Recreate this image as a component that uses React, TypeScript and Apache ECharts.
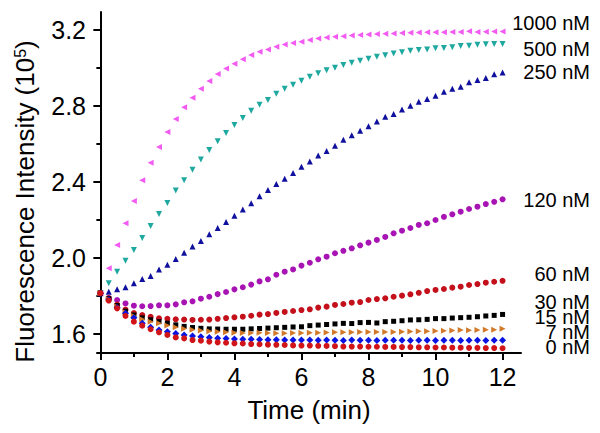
import React, { useEffect, useRef } from "react";
import * as echarts from "echarts";

const TIMES = [
  0, 0.25, 0.5, 0.75, 1, 1.25, 1.5, 1.75, 2, 2.25,
  2.5, 2.75, 3, 3.25, 3.5, 3.75, 4, 4.25, 4.5, 4.75,
  5, 5.25, 5.5, 5.75, 6, 6.25, 6.5, 6.75, 7, 7.25,
  7.5, 7.75, 8, 8.25, 8.5, 8.75, 9, 9.25, 9.5, 9.75,
  10, 10.25, 10.5, 10.75, 11, 11.25, 11.5, 11.75, 12,
];

const C1000 = [
  1.815, 1.946, 2.068, 2.183, 2.30, 2.409, 2.502, 2.584, 2.663, 2.732,
  2.793, 2.844, 2.891, 2.932, 2.968, 2.998, 3.023, 3.046, 3.068, 3.086,
  3.098, 3.112, 3.124, 3.132, 3.139, 3.147, 3.155, 3.161, 3.165, 3.168,
  3.171, 3.174, 3.176, 3.179, 3.180, 3.182, 3.184, 3.186, 3.187, 3.188,
  3.188, 3.189, 3.190, 3.190, 3.194, 3.190, 3.191, 3.192, 3.192,
];
const C500 = [
  1.815, 1.867, 1.928, 1.986, 2.042, 2.105, 2.168, 2.232, 2.289, 2.356,
  2.409, 2.465, 2.519, 2.568, 2.614, 2.658, 2.700, 2.737, 2.775, 2.807,
  2.832, 2.865, 2.891, 2.912, 2.933, 2.954, 2.972, 2.989, 3.002, 3.016,
  3.028, 3.039, 3.049, 3.060, 3.067, 3.076, 3.083, 3.091, 3.095, 3.098,
  3.104, 3.106, 3.109, 3.116, 3.118, 3.123, 3.125, 3.127, 3.127,
];
const C250 = [
  1.815, 1.823, 1.835, 1.846, 1.867, 1.889, 1.905, 1.940, 1.965, 1.995,
  2.028, 2.060, 2.090, 2.125, 2.158, 2.189, 2.223, 2.256, 2.288, 2.325,
  2.358, 2.389, 2.417, 2.447, 2.481, 2.508, 2.540, 2.563, 2.591, 2.623,
  2.646, 2.670, 2.693, 2.718, 2.744, 2.758, 2.782, 2.802, 2.823, 2.837,
  2.854, 2.875, 2.891, 2.902, 2.925, 2.937, 2.947, 2.967, 2.977,
];
const C120 = [
  1.815, 1.790, 1.779, 1.761, 1.749, 1.746, 1.747, 1.751, 1.751, 1.756,
  1.767, 1.772, 1.786, 1.796, 1.810, 1.821, 1.835, 1.846, 1.860, 1.877,
  1.888, 1.912, 1.928, 1.940, 1.960, 1.975, 1.993, 2.007, 2.025, 2.038,
  2.051, 2.067, 2.081, 2.095, 2.111, 2.130, 2.144, 2.158, 2.174, 2.183,
  2.200, 2.217, 2.230, 2.244, 2.258, 2.270, 2.284, 2.296, 2.309,
];
const C60 = [
  1.815, 1.788, 1.755, 1.728, 1.710, 1.700, 1.690, 1.683, 1.680, 1.677,
  1.676, 1.674, 1.675, 1.676, 1.680, 1.684, 1.688, 1.691, 1.696, 1.702,
  1.705, 1.711, 1.716, 1.721, 1.726, 1.730, 1.739, 1.744, 1.753, 1.758,
  1.765, 1.768, 1.779, 1.784, 1.788, 1.796, 1.802, 1.809, 1.817, 1.826,
  1.832, 1.837, 1.844, 1.849, 1.858, 1.863, 1.870, 1.875, 1.880,
];
const C30 = [
  1.815, 1.786, 1.750, 1.720, 1.700, 1.685, 1.675, 1.665, 1.657, 1.648,
  1.640, 1.634, 1.630, 1.627, 1.626, 1.625, 1.625, 1.625, 1.627, 1.629,
  1.631, 1.633, 1.635, 1.637, 1.638, 1.644, 1.647, 1.650, 1.653, 1.656,
  1.655, 1.660, 1.661, 1.658, 1.665, 1.667, 1.670, 1.674, 1.675, 1.677,
  1.681, 1.681, 1.684, 1.686, 1.688, 1.691, 1.695, 1.698, 1.703,
];
const C15 = [
  1.815, 1.783, 1.745, 1.715, 1.695, 1.677, 1.665, 1.656, 1.645, 1.636,
  1.628, 1.622, 1.618, 1.615, 1.612, 1.609, 1.606, 1.605, 1.605, 1.606,
  1.605, 1.604, 1.604, 1.605, 1.605, 1.607, 1.607, 1.608, 1.609, 1.609,
  1.609, 1.610, 1.610, 1.610, 1.610, 1.611, 1.612, 1.613, 1.614, 1.615,
  1.616, 1.617, 1.618, 1.621, 1.620, 1.621, 1.622, 1.623, 1.628,
];
const C7 = [
  1.815, 1.780, 1.740, 1.709, 1.686, 1.656, 1.635, 1.621, 1.612, 1.603,
  1.595, 1.589, 1.586, 1.582, 1.577, 1.576, 1.574, 1.573, 1.572, 1.571,
  1.570, 1.570, 1.569, 1.568, 1.568, 1.568, 1.567, 1.568, 1.567, 1.566,
  1.568, 1.567, 1.567, 1.566, 1.567, 1.567, 1.567, 1.566, 1.567, 1.567,
  1.566, 1.567, 1.567, 1.566, 1.567, 1.567, 1.566, 1.567, 1.567,
];
const C0 = [
  1.815, 1.776, 1.735, 1.695, 1.665, 1.644, 1.625, 1.609, 1.595, 1.582,
  1.577, 1.568, 1.565, 1.560, 1.556, 1.554, 1.551, 1.550, 1.547, 1.546,
  1.544, 1.543, 1.542, 1.540, 1.539, 1.539, 1.538, 1.537, 1.536, 1.534,
  1.534, 1.534, 1.533, 1.533, 1.532, 1.532, 1.531, 1.531, 1.530, 1.530,
  1.529, 1.529, 1.528, 1.528, 1.527, 1.527, 1.526, 1.526, 1.525,
];

const SERIES_NAMES = ["1000 nM", "500 nM", "250 nM", "120 nM", "60 nM", "30 nM", "15 nM", "7 nM", "0 nM"];
const SERIES_VALUES = [C1000, C500, C250, C120, C60, C30, C15, C7, C0];

const X_MAJOR = [0, 2, 4, 6, 8, 10, 12];
const X_MINOR = [1, 3, 5, 7, 9, 11];
const Y_MAJOR = [1.6, 2.0, 2.4, 2.8, 3.2];
const Y_MINOR = [1.8, 2.2, 2.6, 3.0];

const FONT = "'Liberation Sans', Arial, sans-serif";

const STYLES = [
  { color: "#f25af2", symbol: "triangle", rotate: 90, size: 6 },
  { color: "#1fa89f", symbol: "triangle", rotate: 180, size: 6 },
  { color: "#10109e", symbol: "triangle", rotate: 0, size: 6 },
  { color: "#a814b4", symbol: "circle", rotate: 0, size: 6 },
  { color: "#c4101a", symbol: "circle", rotate: 0, size: 6 },
  { color: "#000000", symbol: "rect", rotate: 0, size: 5 },
  { color: "#d27a2a", symbol: "triangle", rotate: -90, size: 6 },
  { color: "#0a14e0", symbol: "diamond", rotate: 0, size: 7 },
  { color: "#d01418", symbol: "circle", rotate: 0, size: 6 },
];

const LABEL_Y = [23, 49, 72, 200, 274, 302, 317, 332, 347];

export default function App() {
  const ref = useRef<HTMLDivElement>(null);
  useEffect(() => {
    if (!ref.current) return;
    const chart = echarts.init(ref.current, undefined, { renderer: "svg" });
    const xBase = { type: "value", min: -0.1, max: 12.55, splitLine: { show: false } };
    const yBase = { type: "value", min: 1.5, max: 3.295, splitLine: { show: false } };
    chart.setOption({
      animation: false,
      backgroundColor: "#ffffff",
      textStyle: { fontFamily: FONT },
      grid: { left: 97, right: 79, top: 12, bottom: 80, containLabel: false },
      xAxis: [
        {
          ...xBase,
          position: "bottom",
          axisLine: { show: true, lineStyle: { color: "#000", width: 2 } },
          axisTick: { show: true, length: 7, lineStyle: { color: "#000", width: 2 }, customValues: X_MAJOR },
          axisLabel: { color: "#000", fontSize: 25, fontFamily: FONT, margin: 11, customValues: X_MAJOR },
          name: "Time (min)",
          nameLocation: "middle",
          nameGap: 44,
          nameTextStyle: { color: "#000", fontSize: 26, fontFamily: FONT },
        },
        {
          ...xBase,
          position: "bottom",
          axisLine: { show: false },
          axisTick: { show: true, length: 4, lineStyle: { color: "#000", width: 2 }, customValues: X_MINOR },
          axisLabel: { show: false },
        },
      ],
      yAxis: [
        {
          ...yBase,
          position: "left",
          axisLine: { show: true, lineStyle: { color: "#000", width: 2 } },
          axisTick: { show: true, length: 7, lineStyle: { color: "#000", width: 2 }, customValues: Y_MAJOR },
          axisLabel: {
            color: "#000",
            fontSize: 25,
            fontFamily: FONT,
            margin: 11,
            customValues: Y_MAJOR,
            formatter: (v: number) => v.toFixed(1),
          },
          name: "{a|Fluorescence Intensity (10}{s|5}{a|)}",
          nameLocation: "middle",
          nameGap: 59,
          nameRotate: 90,
          nameTextStyle: {
            color: "#000",
            fontFamily: FONT,
            padding: [0, 38, 0, 0],
            rich: {
              a: { fontSize: 26, lineHeight: 26, fontFamily: FONT, color: "#000" },
              s: { fontSize: 16, lineHeight: 16, verticalAlign: "top", fontFamily: FONT, color: "#000" },
            },
          },
        },
        {
          ...yBase,
          position: "left",
          axisLine: { show: false },
          axisTick: { show: true, length: 4, lineStyle: { color: "#000", width: 2 }, customValues: Y_MINOR },
          axisLabel: { show: false },
        },
      ],
      series: SERIES_VALUES.map((vals, i) => ({
        type: "scatter",
        name: SERIES_NAMES[i],
        xAxisIndex: 0,
        yAxisIndex: 0,
        symbol: STYLES[i].symbol,
        symbolRotate: STYLES[i].rotate,
        symbolSize: STYLES[i].size,
        itemStyle: { color: STYLES[i].color, opacity: 1 },
        emphasis: { disabled: true },
        data: vals.map((v, j) => [TIMES[j], v]),
      })),
      graphic: SERIES_NAMES.map((name, i) => ({
        type: "text",
        x: 590,
        y: LABEL_Y[i],
        silent: true,
        style: {
          text: name,
          align: "right",
          verticalAlign: "middle",
          fontSize: 20,
          fontFamily: FONT,
          fill: "#000",
        },
      })),
    });
    return () => chart.dispose();
  }, []);
  return (
    <div
      ref={ref}
      style={{ position: "absolute", left: 0, top: 0, width: 600, height: 433, background: "#fff" }}
    />
  );
}
